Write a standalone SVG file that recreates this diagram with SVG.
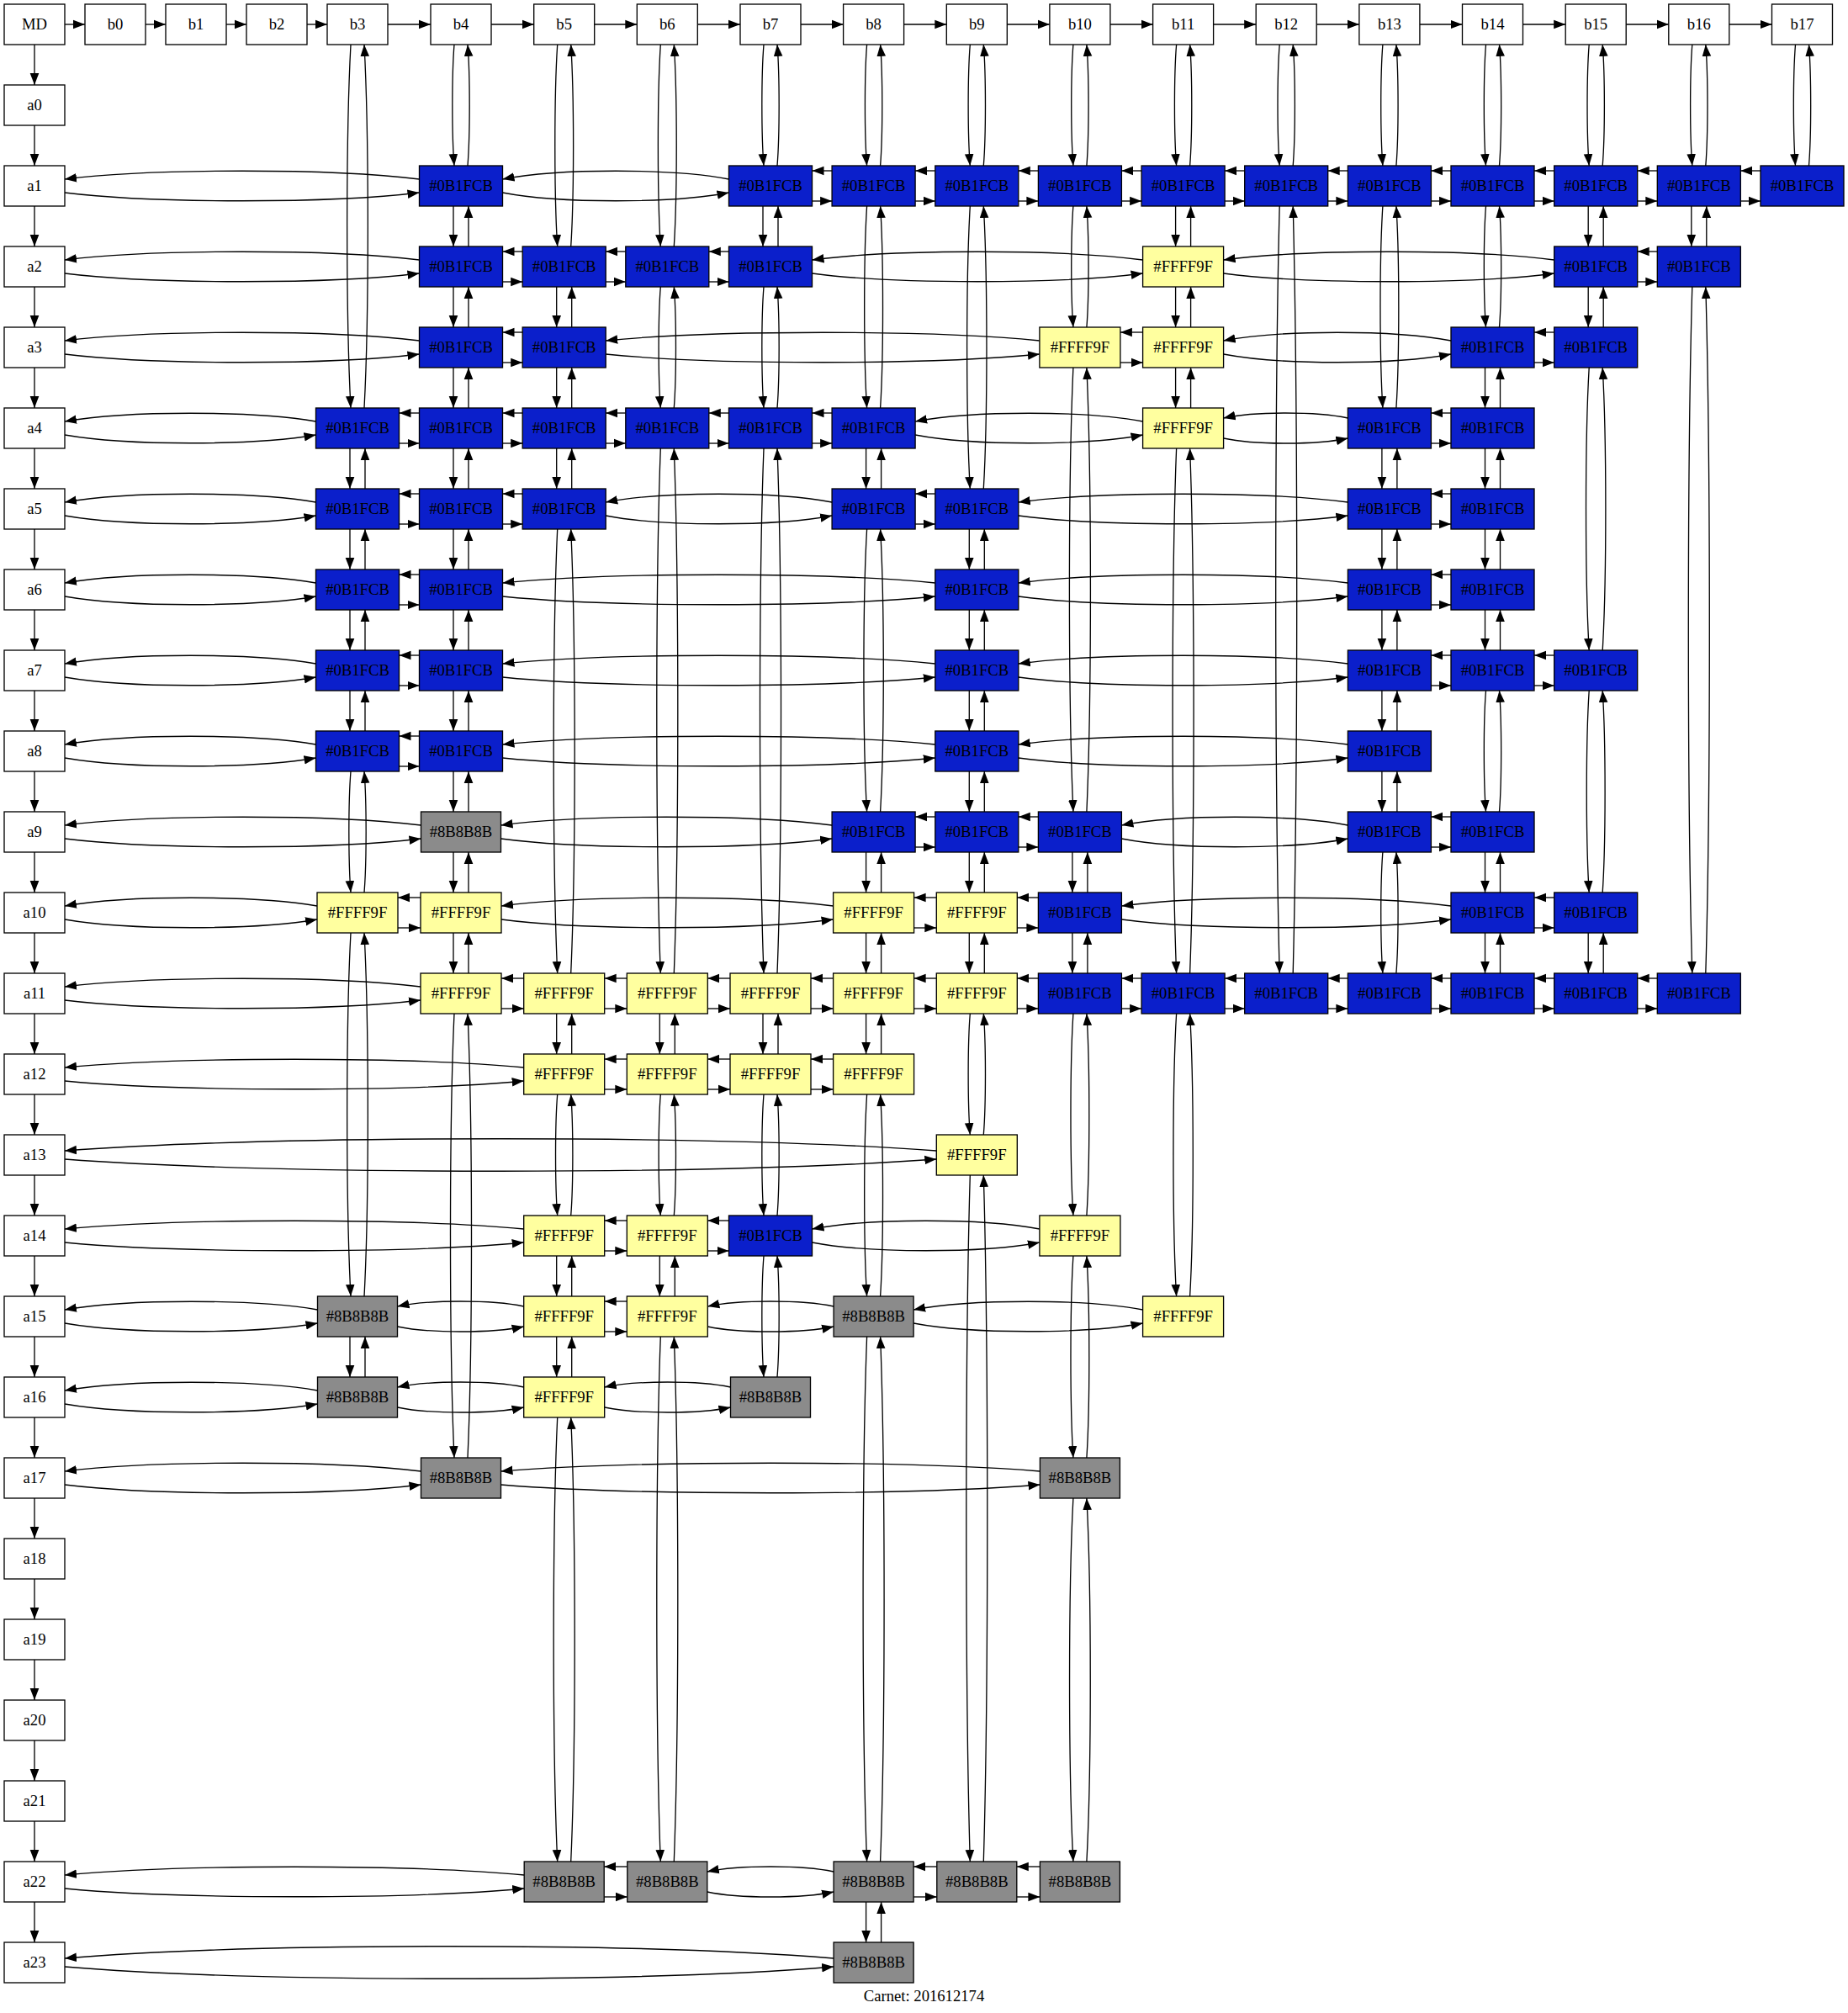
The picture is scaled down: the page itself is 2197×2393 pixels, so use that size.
<svg xmlns="http://www.w3.org/2000/svg" width="2197" height="2393" viewBox="0 0 2197 2393">
<style>
.W rect,.B rect,.Y rect,.G rect{stroke:#000;stroke-width:1.33}
.W rect{fill:#fff}
.B rect{fill:#0B1FCB}
.Y rect{fill:#FFFF9F}
.G rect{fill:#8B8B8B}
text{font-family:"Liberation Serif",Times,serif;font-size:18.67px;text-anchor:middle;fill:#000}
</style>
<defs>
<marker id="ah" markerUnits="userSpaceOnUse" markerWidth="15" markerHeight="12" refX="14" refY="5.3" orient="auto" viewBox="0 0 15 10.6">
<path d="M0,0 L14,5.3 L0,10.6 z" fill="#000"/>
</marker>
</defs>
<rect x="0" y="0" width="2197" height="2393" fill="#fff" stroke="none"/>
<g id="connectors" fill="none" stroke="#000" stroke-width="1.33" marker-end="url(#ah)">
<path d="M77,29H101"/><path d="M173,29H197"/><path d="M269,29H293"/><path d="M365,29H389"/><path d="M461,29H512"/><path d="M584,29H634.7"/><path d="M706.7,29H757.3"/><path d="M829.3,29H880"/><path d="M952,29H1002.6"/><path d="M1074.6,29H1125.3"/><path d="M1197.3,29H1247.9"/><path d="M1319.9,29H1370.6"/><path d="M1442.6,29H1493.2"/><path d="M1565.2,29H1615.9"/><path d="M1687.9,29H1738.5"/><path d="M1810.5,29H1861.2"/><path d="M1933.2,29H1983.8"/><path d="M2055.8,29H2106.5"/>
<path d="M41,53V101"/><path d="M41,149V197"/><path d="M41,245V293"/><path d="M41,341V389"/><path d="M41,437V485"/><path d="M41,533V581"/><path d="M41,629V677"/><path d="M41,725V773"/><path d="M41,821V869"/><path d="M41,917V965"/><path d="M41,1013V1061"/><path d="M41,1109V1157"/><path d="M41,1205V1253"/><path d="M41,1301V1349"/><path d="M41,1397V1445"/><path d="M41,1493V1541"/><path d="M41,1589V1637"/><path d="M41,1685V1733"/><path d="M41,1781V1829"/><path d="M41,1877V1925"/><path d="M41,1973V2021"/><path d="M41,2069V2117"/><path d="M41,2165V2213"/><path d="M41,2261V2309"/>
<!-- row a1 -->
<path d="M498.5,213c-105,-13 -316.5,-13 -421.5,0"/><path d="M77,229c105,13 316.5,13 421.5,0"/>
<path d="M866.5,213c-67,-13 -202,-13 -269,0"/><path d="M597.5,229c67,13 202,13 269,0"/>
<path d="M989.1,203H965.5"/><path d="M965.5,239H989.1"/>
<path d="M1111.8,203H1088.1"/><path d="M1088.1,239H1111.8"/>
<path d="M1234.4,203H1210.8"/><path d="M1210.8,239H1234.4"/>
<path d="M1357.1,203H1333.4"/><path d="M1333.4,239H1357.1"/>
<path d="M1479.7,203H1456.1"/><path d="M1456.1,239H1479.7"/>
<path d="M1602.4,203H1578.7"/><path d="M1578.7,239H1602.4"/>
<path d="M1725,203H1701.4"/><path d="M1701.4,239H1725"/>
<path d="M1847.7,203H1824"/><path d="M1824,239H1847.7"/>
<path d="M1970.3,203H1946.7"/><path d="M1946.7,239H1970.3"/>
<path d="M2093,203H2069.3"/><path d="M2069.3,239H2093"/>
<!-- row a2 -->
<path d="M498.5,309c-105,-13 -316.5,-13 -421.5,0"/><path d="M77,325c105,13 316.5,13 421.5,0"/>
<path d="M621.2,299H597.5"/><path d="M597.5,335H621.2"/>
<path d="M743.8,299H720.2"/><path d="M720.2,335H743.8"/>
<path d="M866.5,299H842.8"/><path d="M842.8,335H866.5"/>
<path d="M1358.6,309c-98,-13 -295.1,-13 -393.1,0"/><path d="M965.5,325c98,13 295.1,13 393.1,0"/>
<path d="M1847.7,309c-98,-13 -295.1,-13 -393.1,0"/><path d="M1454.6,325c98,13 295.1,13 393.1,0"/>
<path d="M1970.3,299H1946.7"/><path d="M1946.7,335H1970.3"/>
<!-- row a3 -->
<path d="M498.5,405c-105,-13 -316.5,-13 -421.5,0"/><path d="M77,421c105,13 316.5,13 421.5,0"/>
<path d="M621.2,395H597.5"/><path d="M597.5,431H621.2"/>
<path d="M1235.9,405c-129,-13 -386.7,-13 -515.7,0"/><path d="M720.2,421c129,13 386.7,13 515.7,0"/>
<path d="M1358.6,395H1331.9"/><path d="M1331.9,431H1358.6"/>
<path d="M1725,405c-68,-13 -202.4,-13 -270.4,0"/><path d="M1454.6,421c68,13 202.4,13 270.4,0"/>
<path d="M1847.7,395H1824"/><path d="M1824,431H1847.7"/>
<!-- row a4 -->
<path d="M375.5,501c-75,-13 -223.5,-13 -298.5,0"/><path d="M77,517c75,13 223.5,13 298.5,0"/>
<path d="M498.5,491H474.5"/><path d="M474.5,527H498.5"/>
<path d="M621.2,491H597.5"/><path d="M597.5,527H621.2"/>
<path d="M743.8,491H720.2"/><path d="M720.2,527H743.8"/>
<path d="M866.5,491H842.8"/><path d="M842.8,527H866.5"/>
<path d="M989.1,491H965.5"/><path d="M965.5,527H989.1"/>
<path d="M1358.6,501c-68,-13 -202.5,-13 -270.5,0"/><path d="M1088.1,517c68,13 202.5,13 270.5,0"/>
<path d="M1602.4,497c-37,-8 -110.8,-8 -147.8,0"/><path d="M1454.6,521c37,8 110.8,8 147.8,0"/>
<path d="M1725,491H1701.4"/><path d="M1701.4,527H1725"/>
<!-- row a5 -->
<path d="M375.5,597c-75,-13 -223.5,-13 -298.5,0"/><path d="M77,613c75,13 223.5,13 298.5,0"/>
<path d="M498.5,587H474.5"/><path d="M474.5,623H498.5"/>
<path d="M621.2,587H597.5"/><path d="M597.5,623H621.2"/>
<path d="M989.1,597c-67,-13 -201.9,-13 -268.9,0"/><path d="M720.2,613c67,13 201.9,13 268.9,0"/>
<path d="M1111.8,587H1088.1"/><path d="M1088.1,623H1111.8"/>
<path d="M1602.4,597c-98,-13 -293.6,-13 -391.6,0"/><path d="M1210.8,613c98,13 293.6,13 391.6,0"/>
<path d="M1725,587H1701.4"/><path d="M1701.4,623H1725"/>
<!-- row a6 -->
<path d="M375.5,693c-75,-13 -223.5,-13 -298.5,0"/><path d="M77,709c75,13 223.5,13 298.5,0"/>
<path d="M498.5,683H474.5"/><path d="M474.5,719H498.5"/>
<path d="M1111.8,693c-129,-13 -385.3,-13 -514.3,0"/><path d="M597.5,709c129,13 385.3,13 514.3,0"/>
<path d="M1602.4,693c-98,-13 -293.6,-13 -391.6,0"/><path d="M1210.8,709c98,13 293.6,13 391.6,0"/>
<path d="M1725,683H1701.4"/><path d="M1701.4,719H1725"/>
<!-- row a7 -->
<path d="M375.5,789c-75,-13 -223.5,-13 -298.5,0"/><path d="M77,805c75,13 223.5,13 298.5,0"/>
<path d="M498.5,779H474.5"/><path d="M474.5,815H498.5"/>
<path d="M1111.8,789c-129,-13 -385.3,-13 -514.3,0"/><path d="M597.5,805c129,13 385.3,13 514.3,0"/>
<path d="M1602.4,789c-98,-13 -293.6,-13 -391.6,0"/><path d="M1210.8,805c98,13 293.6,13 391.6,0"/>
<path d="M1725,779H1701.4"/><path d="M1701.4,815H1725"/>
<path d="M1847.7,779H1824"/><path d="M1824,815H1847.7"/>
<!-- row a8 -->
<path d="M375.5,885c-75,-13 -223.5,-13 -298.5,0"/><path d="M77,901c75,13 223.5,13 298.5,0"/>
<path d="M498.5,875H474.5"/><path d="M474.5,911H498.5"/>
<path d="M1111.8,885c-129,-13 -385.3,-13 -514.3,0"/><path d="M597.5,901c129,13 385.3,13 514.3,0"/>
<path d="M1602.4,885c-98,-13 -293.6,-13 -391.6,0"/><path d="M1210.8,901c98,13 293.6,13 391.6,0"/>
<!-- row a9 -->
<path d="M500.5,981c-106,-13 -317.5,-13 -423.5,0"/><path d="M77,997c106,13 317.5,13 423.5,0"/>
<path d="M989.1,981c-98,-13 -295.6,-13 -393.6,0"/><path d="M595.5,997c98,13 295.6,13 393.6,0"/>
<path d="M1111.8,971H1088.1"/><path d="M1088.1,1007H1111.8"/>
<path d="M1234.4,971H1210.8"/><path d="M1210.8,1007H1234.4"/>
<path d="M1602.4,981c-67,-13 -202,-13 -269,0"/><path d="M1333.4,997c67,13 202,13 269,0"/>
<path d="M1725,971H1701.4"/><path d="M1701.4,1007H1725"/>
<!-- row a10 -->
<path d="M377,1077c-75,-13 -225,-13 -300,0"/><path d="M77,1093c75,13 225,13 300,0"/>
<path d="M500,1067H473"/><path d="M473,1103H500"/>
<path d="M990.6,1077c-99,-13 -295.6,-13 -394.6,0"/><path d="M596,1093c99,13 295.6,13 394.6,0"/>
<path d="M1113.3,1067H1086.6"/><path d="M1086.6,1103H1113.3"/>
<path d="M1234.4,1067H1209.3"/><path d="M1209.3,1103H1234.4"/>
<path d="M1725,1077c-98,-13 -293.6,-13 -391.6,0"/><path d="M1333.4,1093c98,13 293.6,13 391.6,0"/>
<path d="M1847.7,1067H1824"/><path d="M1824,1103H1847.7"/>
<!-- row a11 -->
<path d="M500,1173c-106,-13 -317,-13 -423,0"/><path d="M77,1189c106,13 317,13 423,0"/>
<path d="M622.7,1163H596"/><path d="M596,1199H622.7"/>
<path d="M745.3,1163H718.7"/><path d="M718.7,1199H745.3"/>
<path d="M868,1163H841.3"/><path d="M841.3,1199H868"/>
<path d="M990.6,1163H964"/><path d="M964,1199H990.6"/>
<path d="M1113.3,1163H1086.6"/><path d="M1086.6,1199H1113.3"/>
<path d="M1234.4,1163H1209.3"/><path d="M1209.3,1199H1234.4"/>
<path d="M1357.1,1163H1333.4"/><path d="M1333.4,1199H1357.1"/>
<path d="M1479.7,1163H1456.1"/><path d="M1456.1,1199H1479.7"/>
<path d="M1602.4,1163H1578.7"/><path d="M1578.7,1199H1602.4"/>
<path d="M1725,1163H1701.4"/><path d="M1701.4,1199H1725"/>
<path d="M1847.7,1163H1824"/><path d="M1824,1199H1847.7"/>
<path d="M1970.3,1163H1946.7"/><path d="M1946.7,1199H1970.3"/>
<!-- row a12 -->
<path d="M622.7,1269c-136,-13 -409.7,-13 -545.7,0"/><path d="M77,1285c136,13 409.7,13 545.7,0"/>
<path d="M745.3,1259H718.7"/><path d="M718.7,1295H745.3"/>
<path d="M868,1259H841.3"/><path d="M841.3,1295H868"/>
<path d="M990.6,1259H964"/><path d="M964,1295H990.6"/>
<!-- row a13 -->
<path d="M1113.3,1368c-259,-19 -777.3,-19 -1036.3,0"/><path d="M77,1378c259,19 777.3,19 1036.3,0"/>
<!-- row a14 -->
<path d="M622.7,1461c-136,-13 -409.7,-13 -545.7,0"/><path d="M77,1477c136,13 409.7,13 545.7,0"/>
<path d="M745.3,1451H718.7"/><path d="M718.7,1487H745.3"/>
<path d="M866.5,1451H841.3"/><path d="M841.3,1487H866.5"/>
<path d="M1235.9,1461c-68,-13 -202.4,-13 -270.4,0"/><path d="M965.5,1477c68,13 202.4,13 270.4,0"/>
<!-- row a15 -->
<path d="M377.5,1557c-75,-13 -225.5,-13 -300.5,0"/><path d="M77,1573c75,13 225.5,13 300.5,0"/>
<path d="M622.7,1553c-37.5,-8 -112.7,-8 -150.2,0"/><path d="M472.5,1577c37.5,8 112.7,8 150.2,0"/>
<path d="M745.3,1547H718.7"/><path d="M718.7,1583H745.3"/>
<path d="M991.1,1553c-37.5,-8 -112.3,-8 -149.8,0"/><path d="M841.3,1577c37.5,8 112.3,8 149.8,0"/>
<path d="M1358.6,1557c-68,-13 -204.5,-13 -272.5,0"/><path d="M1086.1,1573c68,13 204.5,13 272.5,0"/>
<!-- row a16 -->
<path d="M377.5,1653c-75,-13 -225.5,-13 -300.5,0"/><path d="M77,1669c75,13 225.5,13 300.5,0"/>
<path d="M622.7,1649c-37.5,-8 -112.7,-8 -150.2,0"/><path d="M472.5,1673c37.5,8 112.7,8 150.2,0"/>
<path d="M868.5,1649c-37.5,-8 -112.3,-8 -149.8,0"/><path d="M718.7,1673c37.5,8 112.3,8 149.8,0"/>
<!-- row a17 -->
<path d="M500.5,1749c-106,-13 -317.5,-13 -423.5,0"/><path d="M77,1765c106,13 317.5,13 423.5,0"/>
<path d="M1236.4,1749c-160,-13 -480.9,-13 -640.9,0"/><path d="M595.5,1765c160,13 480.9,13 640.9,0"/>
<!-- row a22 -->
<path d="M623.2,2229c-136.5,-13 -409.7,-13 -546.2,0"/><path d="M77,2245c136.5,13 409.7,13 546.2,0"/>
<path d="M745.8,2219H718.2"/><path d="M718.2,2255H745.8"/>
<path d="M991.1,2225c-37.5,-8 -112.8,-8 -150.3,0"/><path d="M840.8,2249c37.5,8 112.8,8 150.3,0"/>
<path d="M1113.8,2219H1086.1"/><path d="M1086.1,2255H1113.8"/>
<path d="M1236.4,2219H1208.8"/><path d="M1208.8,2255H1236.4"/>
<!-- row a23 -->
<path d="M991.1,2328c-228.5,-19 -685.6,-19 -914.1,0"/><path d="M77,2338c228.5,19 685.6,19 914.1,0"/>
<!-- column b3 -->
<path d="M417,53c-5.8,108 -5.8,324 0,432"/><path d="M433,485c5.8,-108 5.8,-324 0,-432"/>
<path d="M416,533V581"/><path d="M434,581V533"/>
<path d="M416,629V677"/><path d="M434,677V629"/>
<path d="M416,725V773"/><path d="M434,773V725"/>
<path d="M416,821V869"/><path d="M434,869V821"/>
<path d="M417,917c-2.9,36 -2.9,108 0,144"/><path d="M433,1061c2.9,-36 2.9,-108 0,-144"/>
<path d="M417,1109c-5.8,108 -5.8,324 0,432"/><path d="M433,1541c5.8,-108 5.8,-324 0,-432"/>
<path d="M416,1589V1637"/><path d="M434,1637V1589"/>
<!-- column b4 -->
<path d="M540,53c-2.9,36 -2.9,108 0,144"/><path d="M556,197c2.9,-36 2.9,-108 0,-144"/>
<path d="M539,245V293"/><path d="M557,293V245"/>
<path d="M539,341V389"/><path d="M557,389V341"/>
<path d="M539,437V485"/><path d="M557,485V437"/>
<path d="M539,533V581"/><path d="M557,581V533"/>
<path d="M539,629V677"/><path d="M557,677V629"/>
<path d="M539,725V773"/><path d="M557,773V725"/>
<path d="M539,821V869"/><path d="M557,869V821"/>
<path d="M539,917V965"/><path d="M557,965V917"/>
<path d="M539,1013V1061"/><path d="M557,1061V1013"/>
<path d="M539,1109V1157"/><path d="M557,1157V1109"/>
<path d="M540,1205c-6,132 -6,396 0,528"/><path d="M556,1733c6,-132 6,-396 0,-528"/>
<!-- column b5 -->
<path d="M662.7,53c-3.9,60 -3.9,180 0,240"/><path d="M678.7,293c3.9,-60 3.9,-180 0,-240"/>
<path d="M661.7,341V389"/><path d="M679.7,389V341"/>
<path d="M661.7,437V485"/><path d="M679.7,485V437"/>
<path d="M661.7,533V581"/><path d="M679.7,581V533"/>
<path d="M662.7,629c-6,132 -6,396 0,528"/><path d="M678.7,1157c6,-132 6,-396 0,-528"/>
<path d="M661.7,1205V1253"/><path d="M679.7,1253V1205"/>
<path d="M662.7,1301c-2.9,36 -2.9,108 0,144"/><path d="M678.7,1445c2.9,-36 2.9,-108 0,-144"/>
<path d="M661.7,1493V1541"/><path d="M679.7,1541V1493"/>
<path d="M661.7,1589V1637"/><path d="M679.7,1637V1589"/>
<path d="M662.7,1685c-6,132 -6,396 0,528"/><path d="M678.7,2213c6,-132 6,-396 0,-528"/>
<!-- column b6 -->
<path d="M785.3,53c-3.9,60 -3.9,180 0,240"/><path d="M801.3,293c3.9,-60 3.9,-180 0,-240"/>
<path d="M785.3,341c-2.9,36 -2.9,108 0,144"/><path d="M801.3,485c2.9,-36 2.9,-108 0,-144"/>
<path d="M785.3,533c-6,156 -6,468 0,624"/><path d="M801.3,1157c6,-156 6,-468 0,-624"/>
<path d="M784.3,1205V1253"/><path d="M802.3,1253V1205"/>
<path d="M785.3,1301c-2.9,36 -2.9,108 0,144"/><path d="M801.3,1445c2.9,-36 2.9,-108 0,-144"/>
<path d="M784.3,1493V1541"/><path d="M802.3,1541V1493"/>
<path d="M785.3,1589c-6,156 -6,468 0,624"/><path d="M801.3,2213c6,-156 6,-468 0,-624"/>
<!-- column b7 -->
<path d="M908,53c-2.9,36 -2.9,108 0,144"/><path d="M924,197c2.9,-36 2.9,-108 0,-144"/>
<path d="M907,245V293"/><path d="M925,293V245"/>
<path d="M908,341c-2.9,36 -2.9,108 0,144"/><path d="M924,485c2.9,-36 2.9,-108 0,-144"/>
<path d="M908,533c-6,156 -6,468 0,624"/><path d="M924,1157c6,-156 6,-468 0,-624"/>
<path d="M907,1205V1253"/><path d="M925,1253V1205"/>
<path d="M908,1301c-2.9,36 -2.9,108 0,144"/><path d="M924,1445c2.9,-36 2.9,-108 0,-144"/>
<path d="M908,1493c-2.9,36 -2.9,108 0,144"/><path d="M924,1637c2.9,-36 2.9,-108 0,-144"/>
<!-- column b8 -->
<path d="M1030.6,53c-2.9,36 -2.9,108 0,144"/><path d="M1046.6,197c2.9,-36 2.9,-108 0,-144"/>
<path d="M1030.6,245c-3.9,60 -3.9,180 0,240"/><path d="M1046.6,485c3.9,-60 3.9,-180 0,-240"/>
<path d="M1029.6,533V581"/><path d="M1047.6,581V533"/>
<path d="M1030.6,629c-4.9,84 -4.9,252 0,336"/><path d="M1046.6,965c4.9,-84 4.9,-252 0,-336"/>
<path d="M1029.6,1013V1061"/><path d="M1047.6,1061V1013"/>
<path d="M1029.6,1109V1157"/><path d="M1047.6,1157V1109"/>
<path d="M1029.6,1205V1253"/><path d="M1047.6,1253V1205"/>
<path d="M1030.6,1301c-3.9,60 -3.9,180 0,240"/><path d="M1046.6,1541c3.9,-60 3.9,-180 0,-240"/>
<path d="M1030.6,1589c-6,156 -6,468 0,624"/><path d="M1046.6,2213c6,-156 6,-468 0,-624"/>
<path d="M1029.6,2261V2309"/><path d="M1047.6,2309V2261"/>
<!-- column b9 -->
<path d="M1153.3,53c-2.9,36 -2.9,108 0,144"/><path d="M1169.3,197c2.9,-36 2.9,-108 0,-144"/>
<path d="M1153.3,245c-4.9,84 -4.9,252 0,336"/><path d="M1169.3,581c4.9,-84 4.9,-252 0,-336"/>
<path d="M1152.3,629V677"/><path d="M1170.3,677V629"/>
<path d="M1152.3,725V773"/><path d="M1170.3,773V725"/>
<path d="M1152.3,821V869"/><path d="M1170.3,869V821"/>
<path d="M1152.3,917V965"/><path d="M1170.3,965V917"/>
<path d="M1152.3,1013V1061"/><path d="M1170.3,1061V1013"/>
<path d="M1152.3,1109V1157"/><path d="M1170.3,1157V1109"/>
<path d="M1153.3,1205c-2.9,36 -2.9,108 0,144"/><path d="M1169.3,1349c2.9,-36 2.9,-108 0,-144"/>
<path d="M1153.3,1397c-6,204 -6,612 0,816"/><path d="M1169.3,2213c6,-204 6,-612 0,-816"/>
<!-- column b10 -->
<path d="M1275.9,53c-2.9,36 -2.9,108 0,144"/><path d="M1291.9,197c2.9,-36 2.9,-108 0,-144"/>
<path d="M1275.9,245c-2.9,36 -2.9,108 0,144"/><path d="M1291.9,389c2.9,-36 2.9,-108 0,-144"/>
<path d="M1275.9,437c-6,132 -6,396 0,528"/><path d="M1291.9,965c6,-132 6,-396 0,-528"/>
<path d="M1274.9,1013V1061"/><path d="M1292.9,1061V1013"/>
<path d="M1274.9,1109V1157"/><path d="M1292.9,1157V1109"/>
<path d="M1275.9,1205c-3.9,60 -3.9,180 0,240"/><path d="M1291.9,1445c3.9,-60 3.9,-180 0,-240"/>
<path d="M1275.9,1493c-3.9,60 -3.9,180 0,240"/><path d="M1291.9,1733c3.9,-60 3.9,-180 0,-240"/>
<path d="M1275.9,1781c-5.8,108 -5.8,324 0,432"/><path d="M1291.9,2213c5.8,-108 5.8,-324 0,-432"/>
<!-- column b11 -->
<path d="M1398.6,53c-2.9,36 -2.9,108 0,144"/><path d="M1414.6,197c2.9,-36 2.9,-108 0,-144"/>
<path d="M1397.6,245V293"/><path d="M1415.6,293V245"/>
<path d="M1397.6,341V389"/><path d="M1415.6,389V341"/>
<path d="M1397.6,437V485"/><path d="M1415.6,485V437"/>
<path d="M1398.6,533c-6,156 -6,468 0,624"/><path d="M1414.6,1157c6,-156 6,-468 0,-624"/>
<path d="M1398.6,1205c-4.9,84 -4.9,252 0,336"/><path d="M1414.6,1541c4.9,-84 4.9,-252 0,-336"/>
<!-- column b12 -->
<path d="M1521.2,53c-2.9,36 -2.9,108 0,144"/><path d="M1537.2,197c2.9,-36 2.9,-108 0,-144"/>
<path d="M1521.2,245c-6,228 -6,684 0,912"/><path d="M1537.2,1157c6,-228 6,-684 0,-912"/>
<!-- column b13 -->
<path d="M1643.9,53c-2.9,36 -2.9,108 0,144"/><path d="M1659.9,197c2.9,-36 2.9,-108 0,-144"/>
<path d="M1643.9,245c-3.9,60 -3.9,180 0,240"/><path d="M1659.9,485c3.9,-60 3.9,-180 0,-240"/>
<path d="M1642.9,533V581"/><path d="M1660.9,581V533"/>
<path d="M1642.9,629V677"/><path d="M1660.9,677V629"/>
<path d="M1642.9,725V773"/><path d="M1660.9,773V725"/>
<path d="M1642.9,821V869"/><path d="M1660.9,869V821"/>
<path d="M1642.9,917V965"/><path d="M1660.9,965V917"/>
<path d="M1643.9,1013c-2.9,36 -2.9,108 0,144"/><path d="M1659.9,1157c2.9,-36 2.9,-108 0,-144"/>
<!-- column b14 -->
<path d="M1766.5,53c-2.9,36 -2.9,108 0,144"/><path d="M1782.5,197c2.9,-36 2.9,-108 0,-144"/>
<path d="M1766.5,245c-2.9,36 -2.9,108 0,144"/><path d="M1782.5,389c2.9,-36 2.9,-108 0,-144"/>
<path d="M1765.5,437V485"/><path d="M1783.5,485V437"/>
<path d="M1765.5,533V581"/><path d="M1783.5,581V533"/>
<path d="M1765.5,629V677"/><path d="M1783.5,677V629"/>
<path d="M1765.5,725V773"/><path d="M1783.5,773V725"/>
<path d="M1766.5,821c-2.9,36 -2.9,108 0,144"/><path d="M1782.5,965c2.9,-36 2.9,-108 0,-144"/>
<path d="M1765.5,1013V1061"/><path d="M1783.5,1061V1013"/>
<path d="M1765.5,1109V1157"/><path d="M1783.5,1157V1109"/>
<!-- column b15 -->
<path d="M1889.2,53c-2.9,36 -2.9,108 0,144"/><path d="M1905.2,197c2.9,-36 2.9,-108 0,-144"/>
<path d="M1888.2,245V293"/><path d="M1906.2,293V245"/>
<path d="M1888.2,341V389"/><path d="M1906.2,389V341"/>
<path d="M1889.2,437c-4.9,84 -4.9,252 0,336"/><path d="M1905.2,773c4.9,-84 4.9,-252 0,-336"/>
<path d="M1889.2,821c-3.9,60 -3.9,180 0,240"/><path d="M1905.2,1061c3.9,-60 3.9,-180 0,-240"/>
<path d="M1888.2,1109V1157"/><path d="M1906.2,1157V1109"/>
<!-- column b16 -->
<path d="M2011.8,53c-2.9,36 -2.9,108 0,144"/><path d="M2027.8,197c2.9,-36 2.9,-108 0,-144"/>
<path d="M2010.8,245V293"/><path d="M2028.8,293V245"/>
<path d="M2011.8,341c-6,204 -6,612 0,816"/><path d="M2027.8,1157c6,-204 6,-612 0,-816"/>
<!-- column b17 -->
<path d="M2134.5,53c-2.9,36 -2.9,108 0,144"/><path d="M2150.5,197c2.9,-36 2.9,-108 0,-144"/>
</g>
<g id="nodes">
<g id="MD" class="W"><rect x="5" y="5" width="72" height="48"/><text x="41" y="34.5">MD</text></g>
<g id="b0" class="W"><rect x="101" y="5" width="72" height="48"/><text x="137" y="34.5">b0</text></g>
<g id="b1" class="W"><rect x="197" y="5" width="72" height="48"/><text x="233" y="34.5">b1</text></g>
<g id="b2" class="W"><rect x="293" y="5" width="72" height="48"/><text x="329" y="34.5">b2</text></g>
<g id="b3" class="W"><rect x="389" y="5" width="72" height="48"/><text x="425" y="34.5">b3</text></g>
<g id="b4" class="W"><rect x="512" y="5" width="72" height="48"/><text x="548" y="34.5">b4</text></g>
<g id="b5" class="W"><rect x="634.7" y="5" width="72" height="48"/><text x="670.7" y="34.5">b5</text></g>
<g id="b6" class="W"><rect x="757.3" y="5" width="72" height="48"/><text x="793.3" y="34.5">b6</text></g>
<g id="b7" class="W"><rect x="880" y="5" width="72" height="48"/><text x="916" y="34.5">b7</text></g>
<g id="b8" class="W"><rect x="1002.6" y="5" width="72" height="48"/><text x="1038.6" y="34.5">b8</text></g>
<g id="b9" class="W"><rect x="1125.3" y="5" width="72" height="48"/><text x="1161.3" y="34.5">b9</text></g>
<g id="b10" class="W"><rect x="1247.9" y="5" width="72" height="48"/><text x="1283.9" y="34.5">b10</text></g>
<g id="b11" class="W"><rect x="1370.6" y="5" width="72" height="48"/><text x="1406.6" y="34.5">b11</text></g>
<g id="b12" class="W"><rect x="1493.2" y="5" width="72" height="48"/><text x="1529.2" y="34.5">b12</text></g>
<g id="b13" class="W"><rect x="1615.9" y="5" width="72" height="48"/><text x="1651.9" y="34.5">b13</text></g>
<g id="b14" class="W"><rect x="1738.5" y="5" width="72" height="48"/><text x="1774.5" y="34.5">b14</text></g>
<g id="b15" class="W"><rect x="1861.2" y="5" width="72" height="48"/><text x="1897.2" y="34.5">b15</text></g>
<g id="b16" class="W"><rect x="1983.8" y="5" width="72" height="48"/><text x="2019.8" y="34.5">b16</text></g>
<g id="b17" class="W"><rect x="2106.5" y="5" width="72" height="48"/><text x="2142.5" y="34.5">b17</text></g>
<g id="a0" class="W"><rect x="5" y="101" width="72" height="48"/><text x="41" y="130.5">a0</text></g>
<g id="a1" class="W"><rect x="5" y="197" width="72" height="48"/><text x="41" y="226.5">a1</text></g>
<g id="a2" class="W"><rect x="5" y="293" width="72" height="48"/><text x="41" y="322.5">a2</text></g>
<g id="a3" class="W"><rect x="5" y="389" width="72" height="48"/><text x="41" y="418.5">a3</text></g>
<g id="a4" class="W"><rect x="5" y="485" width="72" height="48"/><text x="41" y="514.5">a4</text></g>
<g id="a5" class="W"><rect x="5" y="581" width="72" height="48"/><text x="41" y="610.5">a5</text></g>
<g id="a6" class="W"><rect x="5" y="677" width="72" height="48"/><text x="41" y="706.5">a6</text></g>
<g id="a7" class="W"><rect x="5" y="773" width="72" height="48"/><text x="41" y="802.5">a7</text></g>
<g id="a8" class="W"><rect x="5" y="869" width="72" height="48"/><text x="41" y="898.5">a8</text></g>
<g id="a9" class="W"><rect x="5" y="965" width="72" height="48"/><text x="41" y="994.5">a9</text></g>
<g id="a10" class="W"><rect x="5" y="1061" width="72" height="48"/><text x="41" y="1090.5">a10</text></g>
<g id="a11" class="W"><rect x="5" y="1157" width="72" height="48"/><text x="41" y="1186.5">a11</text></g>
<g id="a12" class="W"><rect x="5" y="1253" width="72" height="48"/><text x="41" y="1282.5">a12</text></g>
<g id="a13" class="W"><rect x="5" y="1349" width="72" height="48"/><text x="41" y="1378.5">a13</text></g>
<g id="a14" class="W"><rect x="5" y="1445" width="72" height="48"/><text x="41" y="1474.5">a14</text></g>
<g id="a15" class="W"><rect x="5" y="1541" width="72" height="48"/><text x="41" y="1570.5">a15</text></g>
<g id="a16" class="W"><rect x="5" y="1637" width="72" height="48"/><text x="41" y="1666.5">a16</text></g>
<g id="a17" class="W"><rect x="5" y="1733" width="72" height="48"/><text x="41" y="1762.5">a17</text></g>
<g id="a18" class="W"><rect x="5" y="1829" width="72" height="48"/><text x="41" y="1858.5">a18</text></g>
<g id="a19" class="W"><rect x="5" y="1925" width="72" height="48"/><text x="41" y="1954.5">a19</text></g>
<g id="a20" class="W"><rect x="5" y="2021" width="72" height="48"/><text x="41" y="2050.5">a20</text></g>
<g id="a21" class="W"><rect x="5" y="2117" width="72" height="48"/><text x="41" y="2146.5">a21</text></g>
<g id="a22" class="W"><rect x="5" y="2213" width="72" height="48"/><text x="41" y="2242.5">a22</text></g>
<g id="a23" class="W"><rect x="5" y="2309" width="72" height="48"/><text x="41" y="2338.5">a23</text></g>

<g id="a1_b4" class="B" transform="translate(548,221)"><rect x="-49.5" y="-24" width="99" height="48"/><text y="5.5">#0B1FCB</text></g>
<g id="a1_b7" class="B" transform="translate(916,221)"><rect x="-49.5" y="-24" width="99" height="48"/><text y="5.5">#0B1FCB</text></g>
<g id="a1_b8" class="B" transform="translate(1038.6,221)"><rect x="-49.5" y="-24" width="99" height="48"/><text y="5.5">#0B1FCB</text></g>
<g id="a1_b9" class="B" transform="translate(1161.3,221)"><rect x="-49.5" y="-24" width="99" height="48"/><text y="5.5">#0B1FCB</text></g>
<g id="a1_b10" class="B" transform="translate(1283.9,221)"><rect x="-49.5" y="-24" width="99" height="48"/><text y="5.5">#0B1FCB</text></g>
<g id="a1_b11" class="B" transform="translate(1406.6,221)"><rect x="-49.5" y="-24" width="99" height="48"/><text y="5.5">#0B1FCB</text></g>
<g id="a1_b12" class="B" transform="translate(1529.2,221)"><rect x="-49.5" y="-24" width="99" height="48"/><text y="5.5">#0B1FCB</text></g>
<g id="a1_b13" class="B" transform="translate(1651.9,221)"><rect x="-49.5" y="-24" width="99" height="48"/><text y="5.5">#0B1FCB</text></g>
<g id="a1_b14" class="B" transform="translate(1774.5,221)"><rect x="-49.5" y="-24" width="99" height="48"/><text y="5.5">#0B1FCB</text></g>
<g id="a1_b15" class="B" transform="translate(1897.2,221)"><rect x="-49.5" y="-24" width="99" height="48"/><text y="5.5">#0B1FCB</text></g>
<g id="a1_b16" class="B" transform="translate(2019.8,221)"><rect x="-49.5" y="-24" width="99" height="48"/><text y="5.5">#0B1FCB</text></g>
<g id="a1_b17" class="B" transform="translate(2142.5,221)"><rect x="-49.5" y="-24" width="99" height="48"/><text y="5.5">#0B1FCB</text></g>

<g id="a2_b4" class="B" transform="translate(548,317)"><rect x="-49.5" y="-24" width="99" height="48"/><text y="5.5">#0B1FCB</text></g>
<g id="a2_b5" class="B" transform="translate(670.7,317)"><rect x="-49.5" y="-24" width="99" height="48"/><text y="5.5">#0B1FCB</text></g>
<g id="a2_b6" class="B" transform="translate(793.3,317)"><rect x="-49.5" y="-24" width="99" height="48"/><text y="5.5">#0B1FCB</text></g>
<g id="a2_b7" class="B" transform="translate(916,317)"><rect x="-49.5" y="-24" width="99" height="48"/><text y="5.5">#0B1FCB</text></g>
<g id="a2_b11" class="Y" transform="translate(1406.6,317)"><rect x="-48" y="-24" width="96" height="48"/><text y="5.5">#FFFF9F</text></g>
<g id="a2_b15" class="B" transform="translate(1897.2,317)"><rect x="-49.5" y="-24" width="99" height="48"/><text y="5.5">#0B1FCB</text></g>
<g id="a2_b16" class="B" transform="translate(2019.8,317)"><rect x="-49.5" y="-24" width="99" height="48"/><text y="5.5">#0B1FCB</text></g>

<g id="a3_b4" class="B" transform="translate(548,413)"><rect x="-49.5" y="-24" width="99" height="48"/><text y="5.5">#0B1FCB</text></g>
<g id="a3_b5" class="B" transform="translate(670.7,413)"><rect x="-49.5" y="-24" width="99" height="48"/><text y="5.5">#0B1FCB</text></g>
<g id="a3_b10" class="Y" transform="translate(1283.9,413)"><rect x="-48" y="-24" width="96" height="48"/><text y="5.5">#FFFF9F</text></g>
<g id="a3_b11" class="Y" transform="translate(1406.6,413)"><rect x="-48" y="-24" width="96" height="48"/><text y="5.5">#FFFF9F</text></g>
<g id="a3_b14" class="B" transform="translate(1774.5,413)"><rect x="-49.5" y="-24" width="99" height="48"/><text y="5.5">#0B1FCB</text></g>
<g id="a3_b15" class="B" transform="translate(1897.2,413)"><rect x="-49.5" y="-24" width="99" height="48"/><text y="5.5">#0B1FCB</text></g>

<g id="a4_b3" class="B" transform="translate(425,509)"><rect x="-49.5" y="-24" width="99" height="48"/><text y="5.5">#0B1FCB</text></g>
<g id="a4_b4" class="B" transform="translate(548,509)"><rect x="-49.5" y="-24" width="99" height="48"/><text y="5.5">#0B1FCB</text></g>
<g id="a4_b5" class="B" transform="translate(670.7,509)"><rect x="-49.5" y="-24" width="99" height="48"/><text y="5.5">#0B1FCB</text></g>
<g id="a4_b6" class="B" transform="translate(793.3,509)"><rect x="-49.5" y="-24" width="99" height="48"/><text y="5.5">#0B1FCB</text></g>
<g id="a4_b7" class="B" transform="translate(916,509)"><rect x="-49.5" y="-24" width="99" height="48"/><text y="5.5">#0B1FCB</text></g>
<g id="a4_b8" class="B" transform="translate(1038.6,509)"><rect x="-49.5" y="-24" width="99" height="48"/><text y="5.5">#0B1FCB</text></g>
<g id="a4_b11" class="Y" transform="translate(1406.6,509)"><rect x="-48" y="-24" width="96" height="48"/><text y="5.5">#FFFF9F</text></g>
<g id="a4_b13" class="B" transform="translate(1651.9,509)"><rect x="-49.5" y="-24" width="99" height="48"/><text y="5.5">#0B1FCB</text></g>
<g id="a4_b14" class="B" transform="translate(1774.5,509)"><rect x="-49.5" y="-24" width="99" height="48"/><text y="5.5">#0B1FCB</text></g>

<g id="a5_b3" class="B" transform="translate(425,605)"><rect x="-49.5" y="-24" width="99" height="48"/><text y="5.5">#0B1FCB</text></g>
<g id="a5_b4" class="B" transform="translate(548,605)"><rect x="-49.5" y="-24" width="99" height="48"/><text y="5.5">#0B1FCB</text></g>
<g id="a5_b5" class="B" transform="translate(670.7,605)"><rect x="-49.5" y="-24" width="99" height="48"/><text y="5.5">#0B1FCB</text></g>
<g id="a5_b8" class="B" transform="translate(1038.6,605)"><rect x="-49.5" y="-24" width="99" height="48"/><text y="5.5">#0B1FCB</text></g>
<g id="a5_b9" class="B" transform="translate(1161.3,605)"><rect x="-49.5" y="-24" width="99" height="48"/><text y="5.5">#0B1FCB</text></g>
<g id="a5_b13" class="B" transform="translate(1651.9,605)"><rect x="-49.5" y="-24" width="99" height="48"/><text y="5.5">#0B1FCB</text></g>
<g id="a5_b14" class="B" transform="translate(1774.5,605)"><rect x="-49.5" y="-24" width="99" height="48"/><text y="5.5">#0B1FCB</text></g>

<g id="a6_b3" class="B" transform="translate(425,701)"><rect x="-49.5" y="-24" width="99" height="48"/><text y="5.5">#0B1FCB</text></g>
<g id="a6_b4" class="B" transform="translate(548,701)"><rect x="-49.5" y="-24" width="99" height="48"/><text y="5.5">#0B1FCB</text></g>
<g id="a6_b9" class="B" transform="translate(1161.3,701)"><rect x="-49.5" y="-24" width="99" height="48"/><text y="5.5">#0B1FCB</text></g>
<g id="a6_b13" class="B" transform="translate(1651.9,701)"><rect x="-49.5" y="-24" width="99" height="48"/><text y="5.5">#0B1FCB</text></g>
<g id="a6_b14" class="B" transform="translate(1774.5,701)"><rect x="-49.5" y="-24" width="99" height="48"/><text y="5.5">#0B1FCB</text></g>

<g id="a7_b3" class="B" transform="translate(425,797)"><rect x="-49.5" y="-24" width="99" height="48"/><text y="5.5">#0B1FCB</text></g>
<g id="a7_b4" class="B" transform="translate(548,797)"><rect x="-49.5" y="-24" width="99" height="48"/><text y="5.5">#0B1FCB</text></g>
<g id="a7_b9" class="B" transform="translate(1161.3,797)"><rect x="-49.5" y="-24" width="99" height="48"/><text y="5.5">#0B1FCB</text></g>
<g id="a7_b13" class="B" transform="translate(1651.9,797)"><rect x="-49.5" y="-24" width="99" height="48"/><text y="5.5">#0B1FCB</text></g>
<g id="a7_b14" class="B" transform="translate(1774.5,797)"><rect x="-49.5" y="-24" width="99" height="48"/><text y="5.5">#0B1FCB</text></g>
<g id="a7_b15" class="B" transform="translate(1897.2,797)"><rect x="-49.5" y="-24" width="99" height="48"/><text y="5.5">#0B1FCB</text></g>

<g id="a8_b3" class="B" transform="translate(425,893)"><rect x="-49.5" y="-24" width="99" height="48"/><text y="5.5">#0B1FCB</text></g>
<g id="a8_b4" class="B" transform="translate(548,893)"><rect x="-49.5" y="-24" width="99" height="48"/><text y="5.5">#0B1FCB</text></g>
<g id="a8_b9" class="B" transform="translate(1161.3,893)"><rect x="-49.5" y="-24" width="99" height="48"/><text y="5.5">#0B1FCB</text></g>
<g id="a8_b13" class="B" transform="translate(1651.9,893)"><rect x="-49.5" y="-24" width="99" height="48"/><text y="5.5">#0B1FCB</text></g>

<g id="a9_b4" class="G" transform="translate(548,989)"><rect x="-47.5" y="-24" width="95" height="48"/><text y="5.5">#8B8B8B</text></g>
<g id="a9_b8" class="B" transform="translate(1038.6,989)"><rect x="-49.5" y="-24" width="99" height="48"/><text y="5.5">#0B1FCB</text></g>
<g id="a9_b9" class="B" transform="translate(1161.3,989)"><rect x="-49.5" y="-24" width="99" height="48"/><text y="5.5">#0B1FCB</text></g>
<g id="a9_b10" class="B" transform="translate(1283.9,989)"><rect x="-49.5" y="-24" width="99" height="48"/><text y="5.5">#0B1FCB</text></g>
<g id="a9_b13" class="B" transform="translate(1651.9,989)"><rect x="-49.5" y="-24" width="99" height="48"/><text y="5.5">#0B1FCB</text></g>
<g id="a9_b14" class="B" transform="translate(1774.5,989)"><rect x="-49.5" y="-24" width="99" height="48"/><text y="5.5">#0B1FCB</text></g>

<g id="a10_b3" class="Y" transform="translate(425,1085)"><rect x="-48" y="-24" width="96" height="48"/><text y="5.5">#FFFF9F</text></g>
<g id="a10_b4" class="Y" transform="translate(548,1085)"><rect x="-48" y="-24" width="96" height="48"/><text y="5.5">#FFFF9F</text></g>
<g id="a10_b8" class="Y" transform="translate(1038.6,1085)"><rect x="-48" y="-24" width="96" height="48"/><text y="5.5">#FFFF9F</text></g>
<g id="a10_b9" class="Y" transform="translate(1161.3,1085)"><rect x="-48" y="-24" width="96" height="48"/><text y="5.5">#FFFF9F</text></g>
<g id="a10_b10" class="B" transform="translate(1283.9,1085)"><rect x="-49.5" y="-24" width="99" height="48"/><text y="5.5">#0B1FCB</text></g>
<g id="a10_b14" class="B" transform="translate(1774.5,1085)"><rect x="-49.5" y="-24" width="99" height="48"/><text y="5.5">#0B1FCB</text></g>
<g id="a10_b15" class="B" transform="translate(1897.2,1085)"><rect x="-49.5" y="-24" width="99" height="48"/><text y="5.5">#0B1FCB</text></g>

<g id="a11_b4" class="Y" transform="translate(548,1181)"><rect x="-48" y="-24" width="96" height="48"/><text y="5.5">#FFFF9F</text></g>
<g id="a11_b5" class="Y" transform="translate(670.7,1181)"><rect x="-48" y="-24" width="96" height="48"/><text y="5.5">#FFFF9F</text></g>
<g id="a11_b6" class="Y" transform="translate(793.3,1181)"><rect x="-48" y="-24" width="96" height="48"/><text y="5.5">#FFFF9F</text></g>
<g id="a11_b7" class="Y" transform="translate(916,1181)"><rect x="-48" y="-24" width="96" height="48"/><text y="5.5">#FFFF9F</text></g>
<g id="a11_b8" class="Y" transform="translate(1038.6,1181)"><rect x="-48" y="-24" width="96" height="48"/><text y="5.5">#FFFF9F</text></g>
<g id="a11_b9" class="Y" transform="translate(1161.3,1181)"><rect x="-48" y="-24" width="96" height="48"/><text y="5.5">#FFFF9F</text></g>
<g id="a11_b10" class="B" transform="translate(1283.9,1181)"><rect x="-49.5" y="-24" width="99" height="48"/><text y="5.5">#0B1FCB</text></g>
<g id="a11_b11" class="B" transform="translate(1406.6,1181)"><rect x="-49.5" y="-24" width="99" height="48"/><text y="5.5">#0B1FCB</text></g>
<g id="a11_b12" class="B" transform="translate(1529.2,1181)"><rect x="-49.5" y="-24" width="99" height="48"/><text y="5.5">#0B1FCB</text></g>
<g id="a11_b13" class="B" transform="translate(1651.9,1181)"><rect x="-49.5" y="-24" width="99" height="48"/><text y="5.5">#0B1FCB</text></g>
<g id="a11_b14" class="B" transform="translate(1774.5,1181)"><rect x="-49.5" y="-24" width="99" height="48"/><text y="5.5">#0B1FCB</text></g>
<g id="a11_b15" class="B" transform="translate(1897.2,1181)"><rect x="-49.5" y="-24" width="99" height="48"/><text y="5.5">#0B1FCB</text></g>
<g id="a11_b16" class="B" transform="translate(2019.8,1181)"><rect x="-49.5" y="-24" width="99" height="48"/><text y="5.5">#0B1FCB</text></g>

<g id="a12_b5" class="Y" transform="translate(670.7,1277)"><rect x="-48" y="-24" width="96" height="48"/><text y="5.5">#FFFF9F</text></g>
<g id="a12_b6" class="Y" transform="translate(793.3,1277)"><rect x="-48" y="-24" width="96" height="48"/><text y="5.5">#FFFF9F</text></g>
<g id="a12_b7" class="Y" transform="translate(916,1277)"><rect x="-48" y="-24" width="96" height="48"/><text y="5.5">#FFFF9F</text></g>
<g id="a12_b8" class="Y" transform="translate(1038.6,1277)"><rect x="-48" y="-24" width="96" height="48"/><text y="5.5">#FFFF9F</text></g>

<g id="a13_b9" class="Y" transform="translate(1161.3,1373)"><rect x="-48" y="-24" width="96" height="48"/><text y="5.5">#FFFF9F</text></g>

<g id="a14_b5" class="Y" transform="translate(670.7,1469)"><rect x="-48" y="-24" width="96" height="48"/><text y="5.5">#FFFF9F</text></g>
<g id="a14_b6" class="Y" transform="translate(793.3,1469)"><rect x="-48" y="-24" width="96" height="48"/><text y="5.5">#FFFF9F</text></g>
<g id="a14_b7" class="B" transform="translate(916,1469)"><rect x="-49.5" y="-24" width="99" height="48"/><text y="5.5">#0B1FCB</text></g>
<g id="a14_b10" class="Y" transform="translate(1283.9,1469)"><rect x="-48" y="-24" width="96" height="48"/><text y="5.5">#FFFF9F</text></g>

<g id="a15_b3" class="G" transform="translate(425,1565)"><rect x="-47.5" y="-24" width="95" height="48"/><text y="5.5">#8B8B8B</text></g>
<g id="a15_b5" class="Y" transform="translate(670.7,1565)"><rect x="-48" y="-24" width="96" height="48"/><text y="5.5">#FFFF9F</text></g>
<g id="a15_b6" class="Y" transform="translate(793.3,1565)"><rect x="-48" y="-24" width="96" height="48"/><text y="5.5">#FFFF9F</text></g>
<g id="a15_b8" class="G" transform="translate(1038.6,1565)"><rect x="-47.5" y="-24" width="95" height="48"/><text y="5.5">#8B8B8B</text></g>
<g id="a15_b11" class="Y" transform="translate(1406.6,1565)"><rect x="-48" y="-24" width="96" height="48"/><text y="5.5">#FFFF9F</text></g>

<g id="a16_b3" class="G" transform="translate(425,1661)"><rect x="-47.5" y="-24" width="95" height="48"/><text y="5.5">#8B8B8B</text></g>
<g id="a16_b5" class="Y" transform="translate(670.7,1661)"><rect x="-48" y="-24" width="96" height="48"/><text y="5.5">#FFFF9F</text></g>
<g id="a16_b7" class="G" transform="translate(916,1661)"><rect x="-47.5" y="-24" width="95" height="48"/><text y="5.5">#8B8B8B</text></g>

<g id="a17_b4" class="G" transform="translate(548,1757)"><rect x="-47.5" y="-24" width="95" height="48"/><text y="5.5">#8B8B8B</text></g>
<g id="a17_b10" class="G" transform="translate(1283.9,1757)"><rect x="-47.5" y="-24" width="95" height="48"/><text y="5.5">#8B8B8B</text></g>

<g id="a22_b5" class="G" transform="translate(670.7,2237)"><rect x="-47.5" y="-24" width="95" height="48"/><text y="5.5">#8B8B8B</text></g>
<g id="a22_b6" class="G" transform="translate(793.3,2237)"><rect x="-47.5" y="-24" width="95" height="48"/><text y="5.5">#8B8B8B</text></g>
<g id="a22_b8" class="G" transform="translate(1038.6,2237)"><rect x="-47.5" y="-24" width="95" height="48"/><text y="5.5">#8B8B8B</text></g>
<g id="a22_b9" class="G" transform="translate(1161.3,2237)"><rect x="-47.5" y="-24" width="95" height="48"/><text y="5.5">#8B8B8B</text></g>
<g id="a22_b10" class="G" transform="translate(1283.9,2237)"><rect x="-47.5" y="-24" width="95" height="48"/><text y="5.5">#8B8B8B</text></g>

<g id="a23_b8" class="G" transform="translate(1038.6,2333)"><rect x="-47.5" y="-24" width="95" height="48"/><text y="5.5">#8B8B8B</text></g>
</g>
<text id="caption" x="1098.5" y="2378.5">Carnet: 201612174</text>
</svg>
